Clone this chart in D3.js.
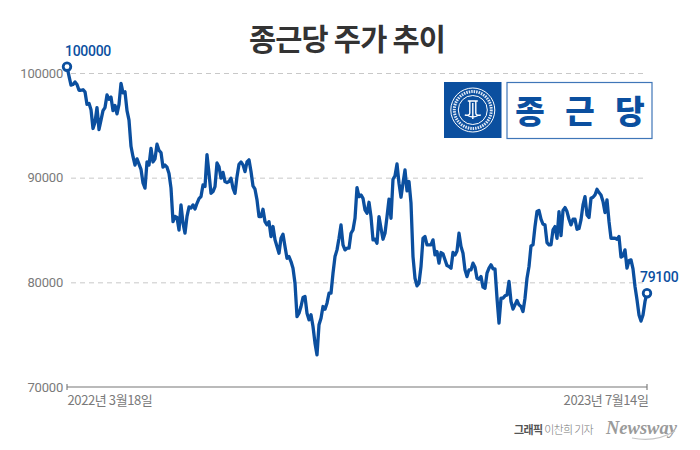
<!DOCTYPE html>
<html><head><meta charset="utf-8">
<script src="https://cdn.jsdelivr.net/npm/d3@7/dist/d3.min.js"></script>
<style>html,body{margin:0;padding:0;background:#fff}svg{display:block}</style></head>
<body><div id="c"></div>
<script>
const titleText = "종근당 주가 추이";
const yTicks = [70000, 80000, 90000, 100000];
const dateLabels = ["2022년 3월18일", "2023년 7월14일"];
const firstLabel = "100000";
const lastLabel = "79100";
const logoWords = ["종", "근", "당"];
const creditText = "그래픽 이찬희 기자";
const brandText = "Newsway";
const closePrices = [
100600,99700,98850,98900,99150,98900,98350,98350,98400,98200,97000,97100,96500,94700,95300,96700,94600,95500,96400,96700,
97900,97500,97700,96400,96900,96100,97000,99000,98100,98200,96400,95500,93000,92000,91200,91800,91300,90800,89500,89000,
91500,91200,92800,91500,91800,93200,92600,92400,91000,91200,91000,90400,89000,85800,86300,86200,85000,87400,85650,84700,
86300,87200,87100,87400,87000,87550,88000,88200,89300,89150,92200,90400,88500,88670,89150,91400,91050,89950,90500,89630,
89530,89630,89950,88990,88500,90100,91280,91500,91220,90580,91500,91700,90580,89210,88900,87880,86280,86280,86980,85800,
85490,85800,84370,85330,84060,83420,82780,84210,84600,83420,82300,82460,81990,81350,79920,76730,77050,77690,78550,78650,
77050,76420,76900,75780,74190,73070,75940,76570,77690,77430,78010,78960,78960,80870,82460,83100,84210,85490,83580,83100,
83260,83260,84690,85010,86120,89050,88190,88350,88030,86920,86600,87650,86280,84060,84120,83740,86280,85170,84120,84690,
86280,87940,86120,89850,90170,91310,89470,88130,89470,90740,88730,89630,87560,82460,80390,79660,79920,81510,84210,84370,
83580,83580,83580,84060,82620,82940,81830,82850,82720,82150,81600,81510,81350,82850,82620,83000,84690,83420,82780,81190,
80550,81190,81190,81830,81450,80390,80300,80550,79540,79440,80870,81350,81670,81290,81290,78490,76100,78490,78490,78710,
78800,80080,78170,77440,77850,78260,77850,77690,77210,78490,80390,81510,83480,83580,85330,86760,86860,86030,85550,85490,
83800,83580,83580,85010,85330,84210,86760,84470,86860,87140,86760,86030,85490,86030,86030,85070,85140,85970,87400,88190,
86440,86190,88030,88130,88350,88890,88580,88350,87720,86670,87880,85810,84210,84210,84210,84120,84370,82400,82530,83100,
81350,82080,82150,81290,79600,78330,76890,76300,76890,78170,78960];

const blue = "#0b4f9f", grey = "#7a7a7a";
const KR = "'Noto Sans CJK KR','Noto Sans',sans-serif";
const svg = d3.select("#c").append("svg").attr("width",700).attr("height",450);
const x = d3.scaleLinear().domain([0,closePrices.length-1]).range([67,647]);
const y = d3.scaleLinear().domain([70000,100000]).range([387,73]);

svg.append("text").attr("x",347).attr("y",50).attr("text-anchor","middle")
  .attr("font-family",KR).attr("font-weight",700).attr("font-size",29.5).attr("fill","#333").attr("letter-spacing",-0.8).text(titleText);

// y axis with dashed grid
const gy = svg.append("g").attr("transform","translate(67,0)")
  .call(d3.axisLeft(y).tickValues(yTicks).tickFormat(d3.format("d")).tickSize(0).tickPadding(4));
gy.select(".domain").remove();
gy.selectAll("text").attr("font-family","Roboto,sans-serif").attr("font-size",13).attr("fill",grey).attr("letter-spacing",-0.2);
gy.selectAll(".tick").filter(d=>d>70000).append("line").attr("x1",4).attr("x2",580)
  .attr("stroke","#c8c8c8").attr("stroke-width",1).attr("stroke-dasharray","5 4");

// x axis
const gx = svg.append("g").attr("transform","translate(0,387)")
  .call(d3.axisBottom(x).tickValues(x.domain()).tickFormat((d,i)=>dateLabels[i]).tickSize(0).tickPadding(9));
gx.select(".domain").attr("stroke","#777").attr("stroke-width",1.1).attr("d","M67,-3V3M67,0H647M647,-3V3");
gx.selectAll("text").attr("font-family",KR).attr("font-size",13).attr("fill",grey).attr("letter-spacing",-0.4)
  .attr("text-anchor",(d,i)=>i?"end":"start").attr("dx",(d,i)=>i?1:0);

// logo
const logo = svg.append("g");
logo.append("rect").attr("x",444).attr("y",82).attr("width",57.5).attr("height",56).attr("fill",blue);
const cx=472.8, cy=110;
logo.append("circle").attr("cx",cx).attr("cy",cy).attr("r",22).attr("fill","none").attr("stroke","#fff").attr("stroke-width",1);
logo.append("circle").attr("cx",cx).attr("cy",cy).attr("r",18.5).attr("fill","none").attr("stroke","#dfe8f5").attr("stroke-width",3).attr("stroke-dasharray","1.5 1");
logo.append("circle").attr("cx",cx).attr("cy",cy).attr("r",14.5).attr("fill","none").attr("stroke","#fff").attr("stroke-width",1);
logo.append("path").attr("d",`M${cx-5},${cy-9}H${cx+5}M${cx-3},${cy-9}V${cy+3}Q${cx-3},${cy+6} ${cx-8},${cy+5}M${cx+3},${cy-9}V${cy+3}Q${cx+3},${cy+6} ${cx+8},${cy+5}M${cx},${cy-7}V${cy+9}M${cx-6},${cy+5}Q${cx},${cy+9} ${cx+6},${cy+5}`)
  .attr("fill","none").attr("stroke","#fff").attr("stroke-width",1.4);
logo.append("rect").attr("x",507).attr("y",82.5).attr("width",145).attr("height",56).attr("fill","#fff").attr("stroke","#3f76b8").attr("stroke-width",1.2);
logo.selectAll("text.w").data(logoWords).join("text").attr("class","w")
  .attr("x",(d,i)=>530+i*50).attr("y",123).attr("text-anchor","middle")
  .attr("font-family",KR).attr("font-weight",900).attr("font-size",32).attr("fill",blue).text(d=>d);

// price line
const line = d3.line().x((d,i)=>x(i)).y(d=>y(d));
svg.append("path").datum(closePrices).attr("d",line).attr("fill","none").attr("stroke",blue)
  .attr("stroke-width",3.3).attr("stroke-linejoin","round").attr("stroke-linecap","round");

// end markers
const ends=[0,closePrices.length-1];
svg.selectAll("circle.end").data(ends).join("circle").attr("class","end")
  .attr("cx",i=>x(i)).attr("cy",i=>y(closePrices[i])).attr("r",3.8)
  .attr("fill","#fff").attr("stroke",blue).attr("stroke-width",2.8);
svg.append("text").attr("x",65).attr("y",56).attr("font-family","Roboto,sans-serif").attr("font-weight",500).attr("font-size",14).attr("fill",blue).attr("letter-spacing",-0.3).text(firstLabel);
svg.append("text").attr("x",640).attr("y",282).attr("font-family","Roboto,sans-serif").attr("font-weight",500).attr("font-size",14).attr("fill",blue).attr("letter-spacing",-0.3).text(lastLabel);

// credit
svg.append("text").attr("x",593).attr("y",434).attr("text-anchor","end").attr("font-family",KR).attr("font-size",11).attr("fill","#777").attr("letter-spacing",-0.7)
  .call(t=>{t.append("tspan").attr("font-weight",700).attr("fill","#555").text(creditText.split(" ")[0]+" ");
            t.append("tspan").attr("font-weight",300).text(creditText.split(" ").slice(1).join(" "));});
svg.append("text").attr("x",606).attr("y",434).attr("font-family","'Liberation Serif',serif").attr("font-style","italic").attr("font-weight",700).attr("font-size",18.5).attr("fill","#9a9a9a").text(brandText);
svg.append("path").attr("d","M632,438Q655,443 675,431").attr("fill","none").attr("stroke","#c4c4c4").attr("stroke-width",1.2);
</script></body></html>
